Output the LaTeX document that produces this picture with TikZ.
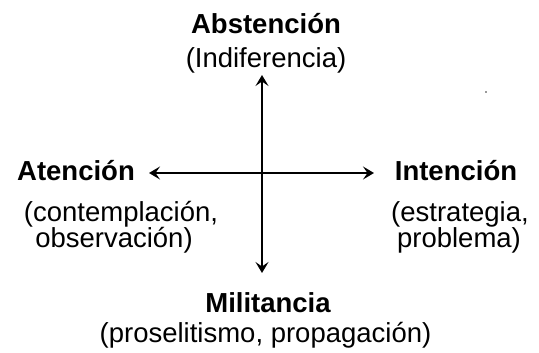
\documentclass[tikz,border=0pt]{standalone}
\usepackage{fontspec}
\setmainfont{Liberation Sans}
\usetikzlibrary{arrows.meta}
\begin{document}
\begin{tikzpicture}[x=1pt,y=-1pt,
  head/.style={font=\fontsize{27.5}{30}\selectfont\bfseries, anchor=base, inner sep=0pt},
  sub/.style={font=\fontsize{27.5}{30}\selectfont, anchor=base, inner sep=0pt},
  tip/.style={Stealth[length=11pt,width=13pt,inset=4.5pt]},
  axis/.style={line width=1.6pt, {Stealth[length=11pt,width=13pt,inset=4.5pt]}-{Stealth[length=11pt,width=13pt,inset=4.5pt]}}]
\useasboundingbox (0,0) rectangle (539,353);
% headings
\node[head] (abs) at (266,34) {Abstención};
\node[sub] (absd) at (266,68) {(Indiferencia)};
\node[head] (ate) at (76,181) {Atención};
\node[sub] (ate1) at (121,221) {(contemplación,};
\node[sub] (ate2) at (114,247) {observación)};
\node[head] (int) at (456,181) {Intención};
\node[sub] (int1) at (460,221) {(estrategia,};
\node[sub] (int2) at (459,247) {problema)};
\node[head] (mil) at (268,312) {Militancia};
\node[sub] (mild) at (265.5,342) {(proselitismo, propagación)};
% axes
\coordinate (up) at (262,75);
\coordinate (down) at (262,273);
\coordinate (left) at (149,173);
\coordinate (right) at (374,173);
\draw[axis] (up) -- (down);
\draw[axis] (left) -- (right);
% stray dot
\fill[black!80] (486,92) circle (0.8);
\end{tikzpicture}
\end{document}
